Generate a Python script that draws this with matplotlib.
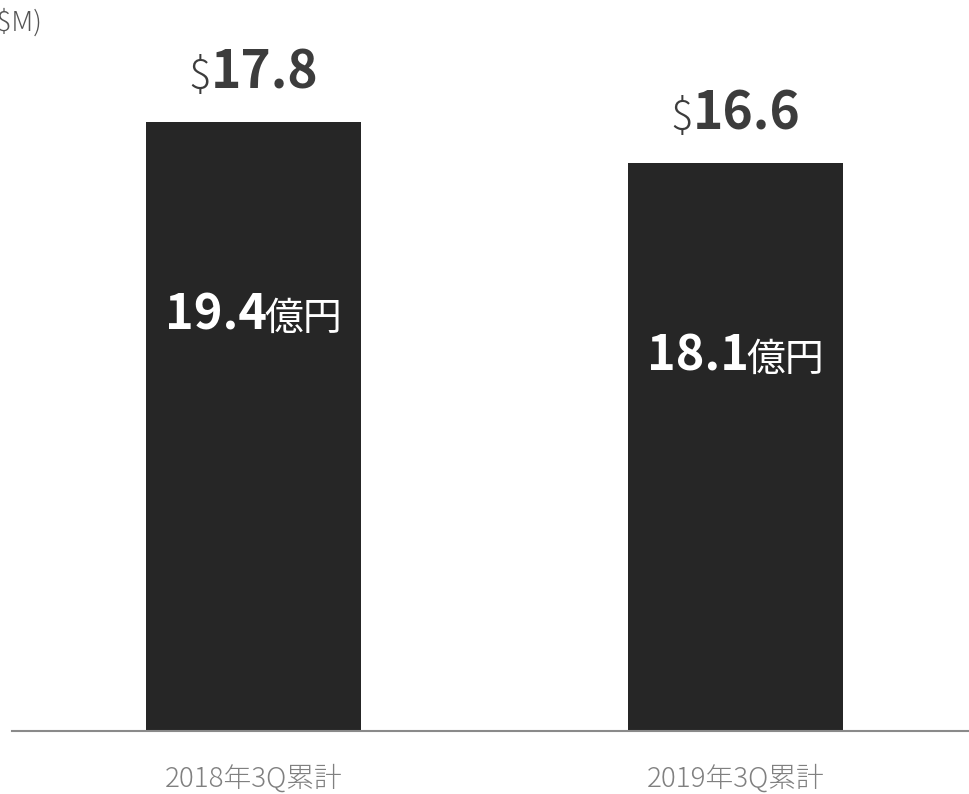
import matplotlib
matplotlib.use('Agg')
import matplotlib.pyplot as plt
from matplotlib.offsetbox import TextArea, HPacker, AnnotationBbox

plt.rcParams['font.family'] = ['Noto Sans CJK JP', 'DejaVu Sans']

# 累計売上（USD 百万 / 億円）
categories = ['2018年3Q累計', '2019年3Q累計']
usd_values = [17.8, 16.6]
jpy_values = [19.4, 18.1]

bar_color = '#262626'
text_dark = '#3c3c3c'

fig = plt.figure(figsize=(9.69, 7.94), dpi=100)
ax = fig.add_axes([0, 0, 1, 1])

# 1データ単位あたりのピクセル数から軸範囲を決める
px_per_unit = 609 / 17.8
ax.set_ylim(-63 / px_per_unit, (794 - 63) / px_per_unit)
ax.set_xlim(-253.5 / 482, (969 - 253.5) / 482)

x = list(range(len(categories)))
ax.bar(x, usd_values, width=215 / 482, color=bar_color, zorder=2)

# ベースライン
ax.axhline(0, xmin=12 / 969, xmax=1, color='#8a8a8a', lw=1.5, zorder=3)


def two_part_label(xpos, ypos, parts, align, offset, sep):
    boxes = [TextArea(s, textprops=p) for s, p in parts]
    pack = HPacker(children=boxes, align='baseline', pad=0, sep=sep)
    ab = AnnotationBbox(pack, (xpos, ypos), xybox=offset,
                        xycoords='data', boxcoords='offset points',
                        box_alignment=align, frameon=False, pad=0)
    ax.add_artist(ab)


for i, (usd, jpy) in enumerate(zip(usd_values, jpy_values)):
    # 棒の上：ドル表示
    two_part_label(i, usd, [
        ('$', dict(fontsize=30, color=text_dark, fontweight='light')),
        (f'{usd:.1f}', dict(fontsize=37, color=text_dark, fontweight='bold')),
    ], (0.5, 0), (0, 16), 0)
    # 棒の中：円表示
    two_part_label(i, usd - 5.65, [
        (f'{jpy:.1f}', dict(fontsize=35, color='white', fontweight='bold')),
        ('億円', dict(fontsize=28, color='white', fontweight='normal')),
    ], (0.5, 0.5), (0, 0), -2)
    # カテゴリ名
    ax.text(i, -47 / px_per_unit, categories[i], ha='center', va='center',
            fontsize=20, color='#808080', fontweight='light')

fig.text(42 / 969, 1 - 22 / 794, '(US$M)', ha='right', va='center',
         fontsize=20, color='#555555', fontweight='light')

ax.axis('off')
fig.savefig('out.png', dpi=100)
